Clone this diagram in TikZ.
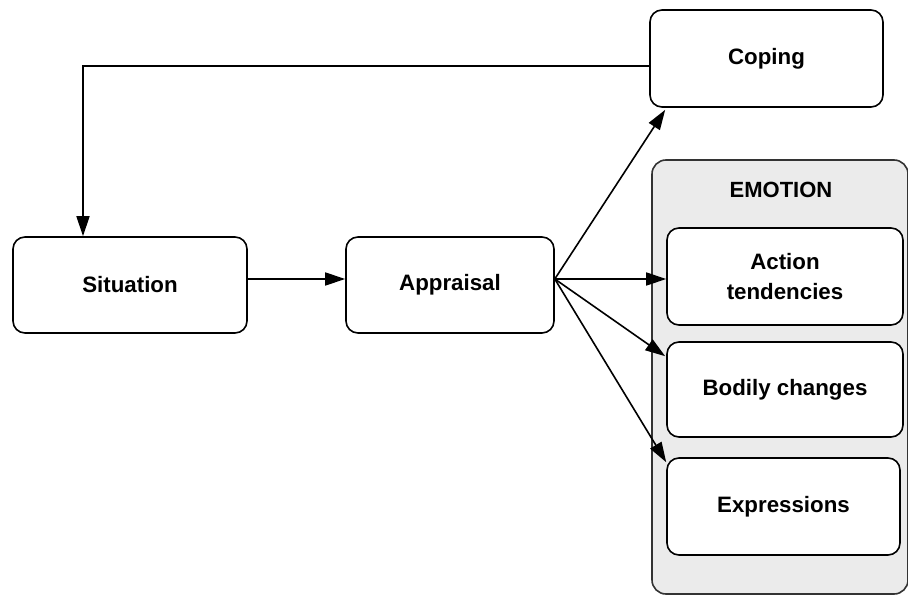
\documentclass[tikz,border=0pt]{standalone}
\usepackage{fontspec}
\setmainfont{Liberation Sans}
\usetikzlibrary{arrows.meta,calc}
\begin{document}
\begin{tikzpicture}[x=1pt,y=-1pt,
  box/.style={draw=black,line width=1.6pt,rounded corners=12pt,fill=white,
    minimum width=#1,minimum height=97pt,inner sep=0pt,align=center,
    font=\fontsize{22.3}{30}\selectfont\bfseries},
  box/.default=236pt,
  conn/.style={line width=1.6pt,-{Triangle[length=20pt,width=13pt]}}]
\useasboundingbox (0,0) rectangle (908,597);
\node[draw=black!80,line width=1.6pt,rounded corners=14pt,fill=black!8,
  minimum width=256pt,minimum height=434pt,inner sep=0pt] (emotion) at (780,377) {};
\node[font=\fontsize{22}{24}\selectfont\bfseries] (emolabel) at (781,190) {EMOTION};
\node[box=233pt] (coping) at (766.5,58.5) {Coping};
\node[box] (action) at (785,276.5) {Action\\tendencies};
\node[box=236pt,minimum height=95pt] (bodily) at (785,389.5) {Bodily changes};
\node[box=233pt] (expr) at (783.5,506.5) {Expressions};
\node[box=234pt,minimum height=96pt] (situation) at (130,285) {Situation};
\node[box=208pt,minimum height=96pt] (appraisal) at (450,285) {Appraisal};
\coordinate (fan) at ($(appraisal.east)+(0,-6)$);
\coordinate (bend) at (83,66);
\draw[conn] ($(situation.east)+(0,-6)$) -- ($(appraisal.west)+(0,-6)$);
\draw[conn] (fan) -- ($(coping.south west)+(16,2)$);
\draw[conn] (fan) -- (fan -| action.west);
\draw[conn] (fan) -- ($(bodily.north west)+(-1,15)$);
\draw[conn] (fan) -- ($(expr.north west)+(0,5)$);
\draw[conn] (coping.west |- bend) -- (bend) -- (bend |- situation.north);
\end{tikzpicture}
\end{document}
